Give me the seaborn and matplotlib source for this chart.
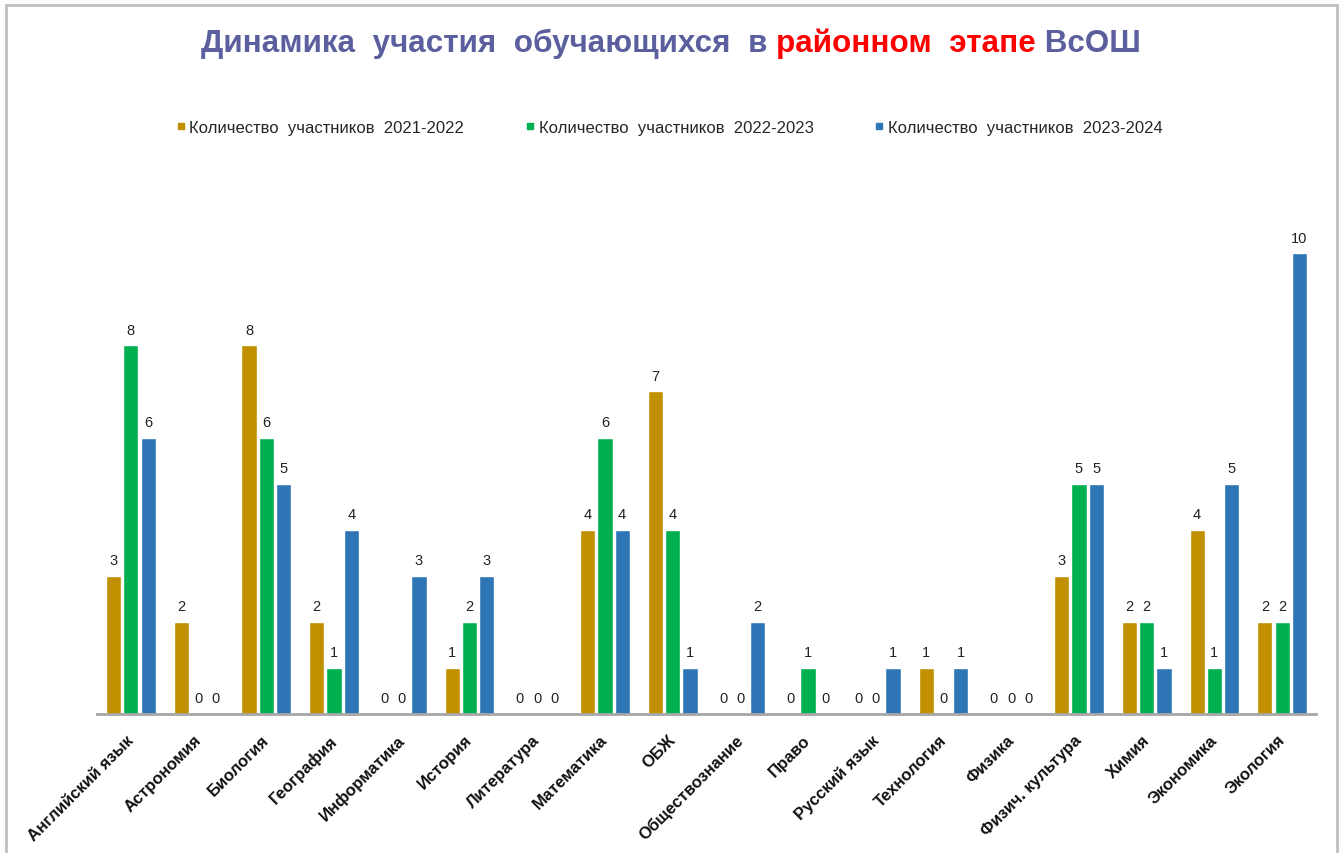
import matplotlib
matplotlib.use("Agg")
import matplotlib.pyplot as plt
import matplotlib.transforms as mtransforms
import seaborn as sns
import pandas as pd
from matplotlib.patches import Rectangle
from matplotlib.lines import Line2D

subjects = ["Английский язык", "Астрономия", "Биология", "География", "Информатика",
            "История", "Литература", "Математика", "ОБЖ", "Обществознание", "Право",
            "Русский язык", "Технология", "Физика", "Физич. культура", "Химия",
            "Экономика", "Экология"]
series_names = ["Количество  участников  2021-2022",
                "Количество  участников  2022-2023",
                "Количество  участников  2023-2024"]
v2021 = [3, 2, 8, 2, 0, 1, 0, 4, 7, 0, 0, 0, 1, 0, 3, 2, 4, 2]
v2022 = [8, 0, 6, 1, 0, 2, 0, 6, 4, 0, 1, 0, 0, 0, 5, 2, 1, 2]
v2023 = [6, 0, 5, 4, 3, 3, 0, 4, 1, 2, 0, 1, 1, 0, 5, 1, 5, 10]
colors = ["#C09000", "#00B050", "#2E75B6"]

rows = []
for name, vals in zip(series_names, [v2021, v2022, v2023]):
    for s, v in zip(subjects, vals):
        rows.append({"subject": s, "series": name, "value": v})
df = pd.DataFrame(rows)

sns.set_theme(style="white")
plt.rcParams['font.family'] = ['Liberation Sans', 'DejaVu Sans']

fig = plt.figure(figsize=(13.42, 8.54), dpi=100)
ax = fig.add_axes([97 / 1342, 0.163, 1219 / 1342, 0.647])

sns.barplot(data=df, x="subject", y="value", hue="series", palette=colors,
            order=subjects, hue_order=series_names, width=0.765, gap=0.12,
            ax=ax, legend=False, saturation=1)

for cont in ax.containers:
    ax.bar_label(cont, fmt="%d", padding=6, fontsize=10.5, color="#222222")

ax.set_ylim(0, 12)
ax.set_xlim(-0.5, 17.5)
ax.set_xlabel("")
ax.set_ylabel("")
ax.set_yticks([])
for sp in ["top", "right", "left"]:
    ax.spines[sp].set_visible(False)
ax.spines["bottom"].set_color("#A6A6A6")
ax.spines["bottom"].set_linewidth(2)
ax.tick_params(axis="x", length=0, pad=13)
offset = mtransforms.ScaledTranslation(-5 / 100, 0, fig.dpi_scale_trans)
for lab in ax.get_xticklabels():
    lab.set_rotation(45)
    lab.set_ha("right")
    lab.set_rotation_mode("anchor")
    lab.set_fontsize(12)
    lab.set_fontweight("bold")
    lab.set_color("#111111")
    lab.set_transform(lab.get_transform() + offset)

# legend
handles = [Line2D([0], [0], marker="s", linestyle="", markersize=5,
                  markerfacecolor=c, markeredgecolor=c) for c in colors]
leg = fig.legend(handles, series_names, loc="center", bbox_to_anchor=(0.4993, 0.85),
                 ncol=3, frameon=False, prop={"size": 12},
                 handlelength=0.4, handletextpad=0.3, columnspacing=3.76)

# title with coloured pieces
pieces = [("Динамика  участия  обучающихся  в ", "#5B5F9E"),
          ("районном  этапе", "#FF0000"),
          (" ВсОШ", "#5B5F9E")]
fig.canvas.draw()
renderer = fig.canvas.get_renderer()
texts = []
for s, c in pieces:
    t = fig.text(0, 0.949, s, color=c, fontsize=22.5,
                 fontweight="bold", ha="left", va="center")
    texts.append(t)
widths = [t.get_window_extent(renderer).width for t in texts]
total = sum(widths)
target = 933.0
if total > 0:
    scale = target / total
    for t in texts:
        t.set_fontsize(t.get_fontsize() * scale)
    widths = [t.get_window_extent(renderer).width for t in texts]
    total = sum(widths)
x = 671 - total / 2
for t, w in zip(texts, widths):
    t.set_x(x / fig.bbox.width)
    x += w

# border
fig.patches.append(Rectangle((6 / 1342, -0.01), (1337 - 6) / 1342, 1 - 6 / 854 + 0.01,
                             transform=fig.transFigure, fill=False,
                             edgecolor="#BFBFBF", linewidth=2))

fig.savefig("out.png", dpi=100)
